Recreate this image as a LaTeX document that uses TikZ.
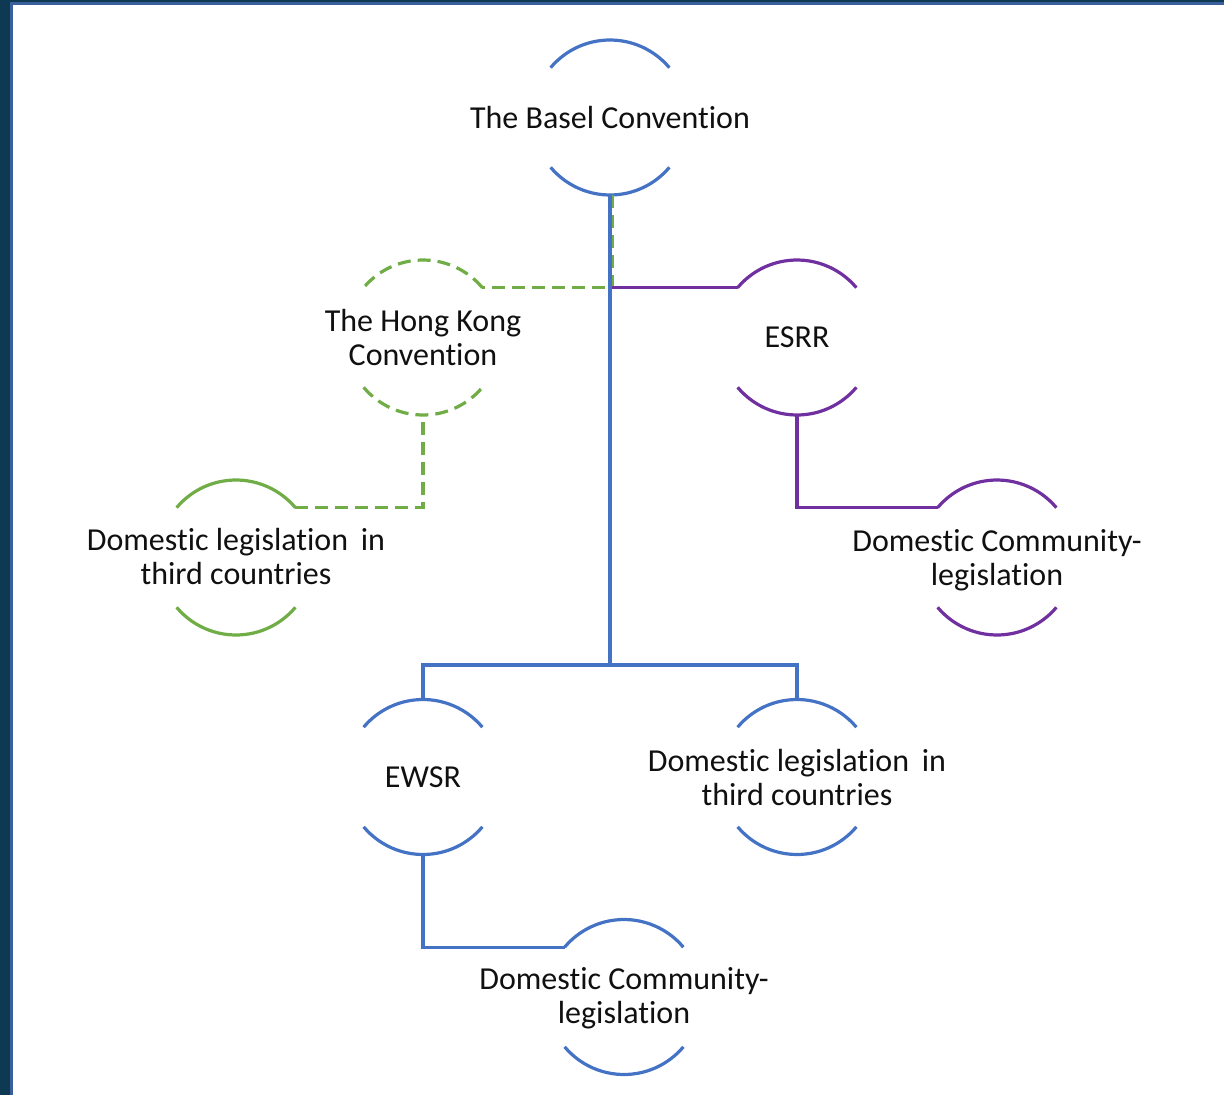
\documentclass[tikz,border=0pt]{standalone}
\usepackage{fontspec}
\setmainfont{Carlito}[RawFeature={-liga}]
\definecolor{cblue}{HTML}{4472C4}
\definecolor{cgreen}{HTML}{70AD47}
\definecolor{cpurple}{HTML}{7030A0}
\definecolor{bandDark}{HTML}{0D3A52}
\definecolor{bandLine}{HTML}{3A5F9C}
\definecolor{txtc}{HTML}{101010}
\newcommand\ringarcs[2]{%
  \draw[#2] (#1.40) arc[start angle=40,end angle=140,radius=77.5pt];
  \draw[#2] (#1.220) arc[start angle=220,end angle=320,radius=77.5pt];}
\begin{document}
\begin{tikzpicture}[x=1pt,y=1pt,
  ring/.style={circle, minimum size=155pt, inner sep=0pt, outer sep=0pt},
  lbl/.style={align=center, font=\fontsize{32}{34}\selectfont, text=txtc, inner sep=0pt},
  bluestroke/.style={draw=cblue, line width=3.2pt},
  greenstroke/.style={draw=cgreen, line width=3.2pt},
  greendash/.style={draw=cgreen, line width=3.2pt, dash pattern=on 13pt off 7pt},
  purplestroke/.style={draw=cpurple, line width=3.2pt}]
\useasboundingbox (0,0) rectangle (1224,-1095);
% frame
\fill[bandDark] (0,0) rectangle (10,-1095);
\fill[bandDark] (0,0) rectangle (1224,-2);
\fill[bandLine] (10,-2) rectangle (12.5,-1095);
\fill[bandLine] (10,-2) rectangle (1224,-4.5);
% nodes
\node[ring] (basel) at (610,-117.5) {};
\node[ring] (hk)    at (423,-337.5) {};
\node[ring] (esrr)  at (797,-337.5) {};
\node[ring] (dlg)   at (236,-557.5) {};
\node[ring] (dcp)   at (997,-557.5) {};
\node[ring] (ewsr)  at (423,-777) {};
\node[ring] (dlb)   at (797,-777) {};
\node[ring] (dcb)   at (624,-997) {};
\node[lbl] (tbasel) at (basel) {The Basel Convention};
\node[lbl] (thk)    at (hk) {The Hong Kong\\Convention};
\node[lbl] (tesrr)  at (esrr) {ESRR};
\node[lbl] (tdlg)   at ([yshift=1pt]dlg) {Domestic legislation\hspace{0.4em}in\\third countries};
\node[lbl] (tdcp)   at ([yshift=-3pt]dcp) {Domestic Community-\\legislation};
\node[lbl] (tewsr)  at (ewsr) {EWSR};
\node[lbl] (tdlb)   at (dlb) {Domestic legislation\hspace{0.4em}in\\third countries};
\node[lbl] (tdcb)   at ([yshift=-1.5pt]dcb) {Domestic Community-\\legislation};
\coordinate (fork) at (610,-665);
% arcs
\ringarcs{basel}{bluestroke}
\ringarcs{hk}{greendash}
\ringarcs{esrr}{purplestroke}
\ringarcs{dlg}{greenstroke}
\ringarcs{dcp}{purplestroke}
\ringarcs{ewsr}{bluestroke}
\ringarcs{dlb}{bluestroke}
\ringarcs{dcb}{bluestroke}
% connectors
\draw[greendash] ([xshift=2.5pt]basel.south) |- (hk.40);
\draw[greendash] (dlg.40) -| (hk.south);
\draw[purplestroke] (basel.south |- esrr.140) -- (esrr.140);
\draw[purplestroke] (esrr.south) |- (dcp.140);
\draw[bluestroke] (basel.south) -- (fork);
\draw[bluestroke] (ewsr.north) |- (fork) -| (dlb.north);
\draw[bluestroke] (ewsr.south) |- (dcb.140);
\end{tikzpicture}
\end{document}
